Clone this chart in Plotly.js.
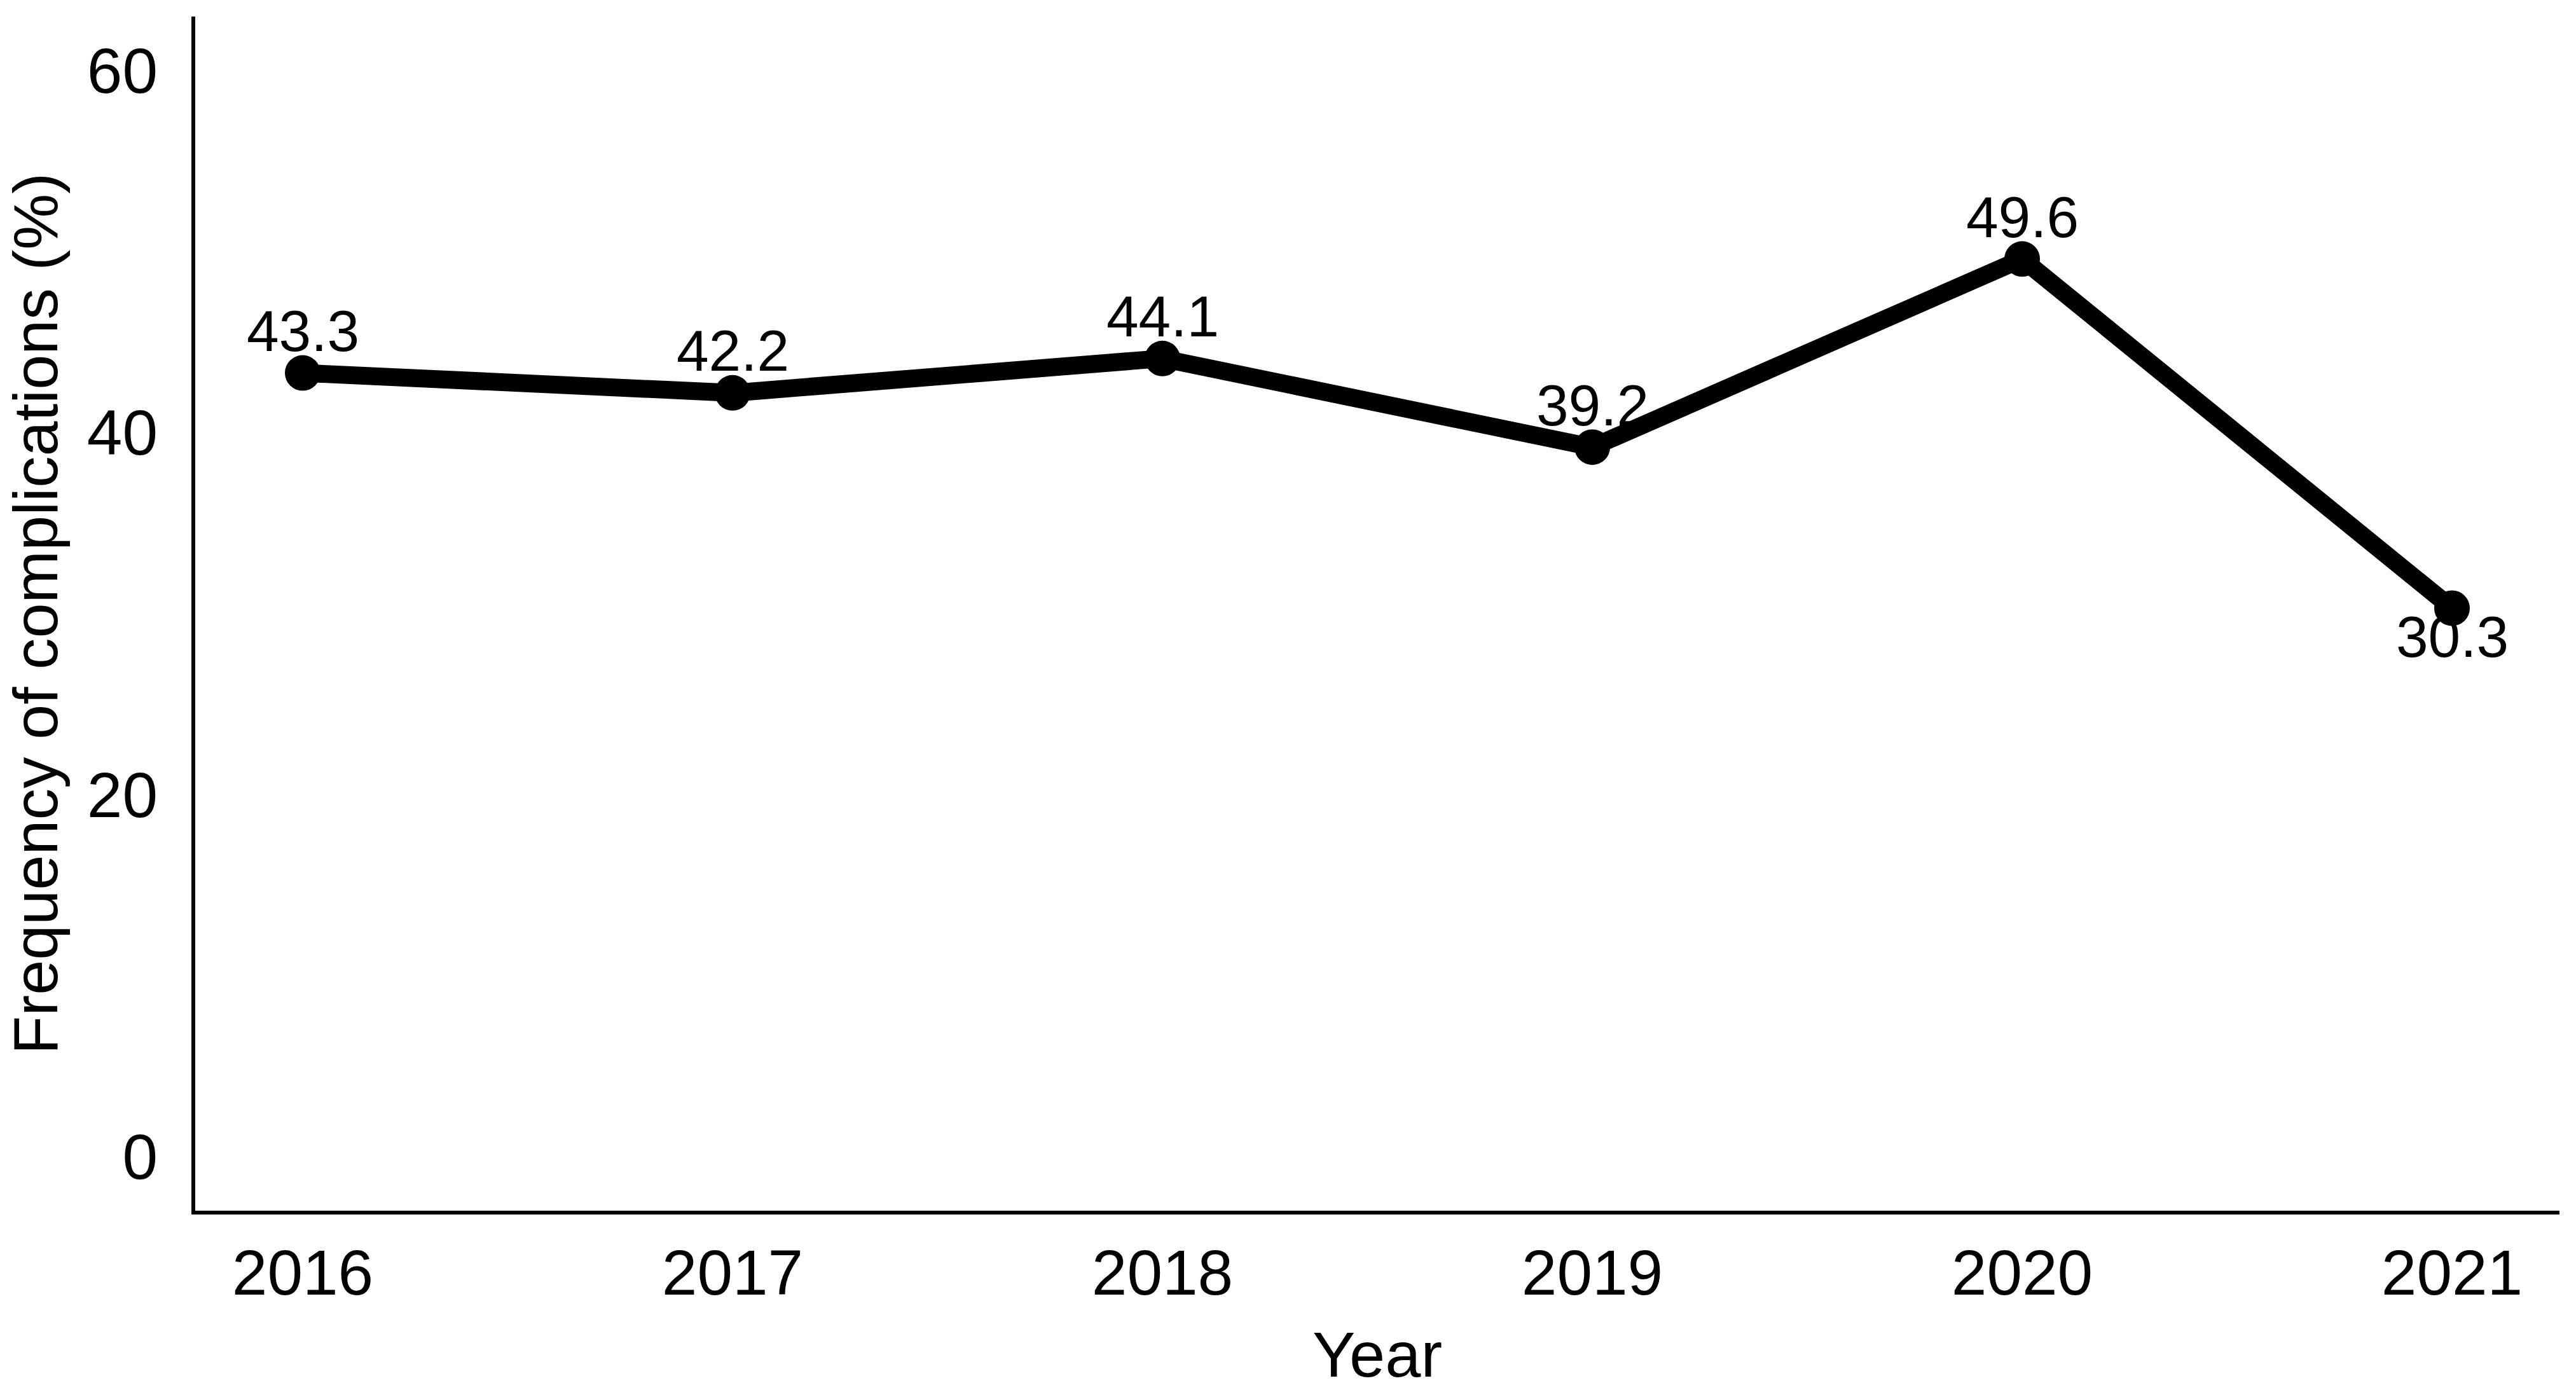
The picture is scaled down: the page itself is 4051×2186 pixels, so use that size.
<!DOCTYPE html>
<html>
<head>
<meta charset="utf-8">
<script src="https://cdn.plot.ly/plotly-3.0.1.min.js"></script>
<style>
  html, body { margin: 0; padding: 0; background: #ffffff; }
  #chart { width: 4051px; height: 2186px; }
</style>
</head>
<body>
<div id="chart"></div>
<script>
// ---- Data ----
const years = [2016, 2017, 2018, 2019, 2020, 2021];
const frequency = [43.3, 42.2, 44.1, 39.2, 49.6, 30.3];
const yTickVals = [0, 20, 40, 60];
const xTitle = "Year";
const yTitle = "Frequency of complications (%)";

const FONT = '"Liberation Sans", Arial, sans-serif';

const lineTrace = {
  x: years,
  y: frequency,
  type: 'scatter',
  mode: 'lines+markers',
  line: { color: '#000000', width: 28 },
  marker: { color: '#000000', size: 56, symbol: 'circle' },
  hoverinfo: 'skip',
  showlegend: false
};

const annotations = years.map((yr, i) => ({
  x: yr,
  y: frequency[i],
  xref: 'x',
  yref: 'y',
  text: frequency[i].toFixed(1),
  showarrow: false,
  xanchor: 'center',
  yanchor: 'middle',
  yshift: (i === years.length - 1) ? -45 : 66,
  font: { family: FONT, size: 91, color: '#000000' }
}));

const layout = {
  width: 4051,
  height: 2186,
  paper_bgcolor: '#ffffff',
  plot_bgcolor: '#ffffff',
  margin: { l: 307, r: 26, t: 26, b: 282, pad: 0 },
  showlegend: false,
  font: { family: FONT, color: '#000000' },
  xaxis: {
    range: [2015.75, 2021.25],
    tickmode: 'array',
    tickvals: years,
    ticktext: years.map(String),
    showgrid: false,
    zeroline: false,
    showline: true,
    linecolor: '#000000',
    linewidth: 6,
    ticks: 'outside',
    ticklen: 6,
    tickcolor: 'rgba(0,0,0,0)',
    tickfont: { family: FONT, size: 100, color: '#000000' },
    title: { text: xTitle, font: { family: FONT, size: 101, color: '#000000' }, standoff: 65 }
  },
  yaxis: {
    range: [-3, 63],
    tickmode: 'array',
    tickvals: yTickVals,
    ticktext: yTickVals.map(String),
    showgrid: false,
    zeroline: false,
    showline: true,
    linecolor: '#000000',
    linewidth: 6,
    ticks: 'outside',
    ticklen: 33,
    tickcolor: 'rgba(0,0,0,0)',
    tickfont: { family: FONT, size: 100, color: '#000000' },
    title: { text: yTitle, font: { family: FONT, size: 99, color: '#000000' }, standoff: 40 }
  },
  annotations: annotations
};

Plotly.newPlot('chart', [lineTrace], layout, { displayModeBar: false, staticPlot: true });
</script>
</body>
</html>
